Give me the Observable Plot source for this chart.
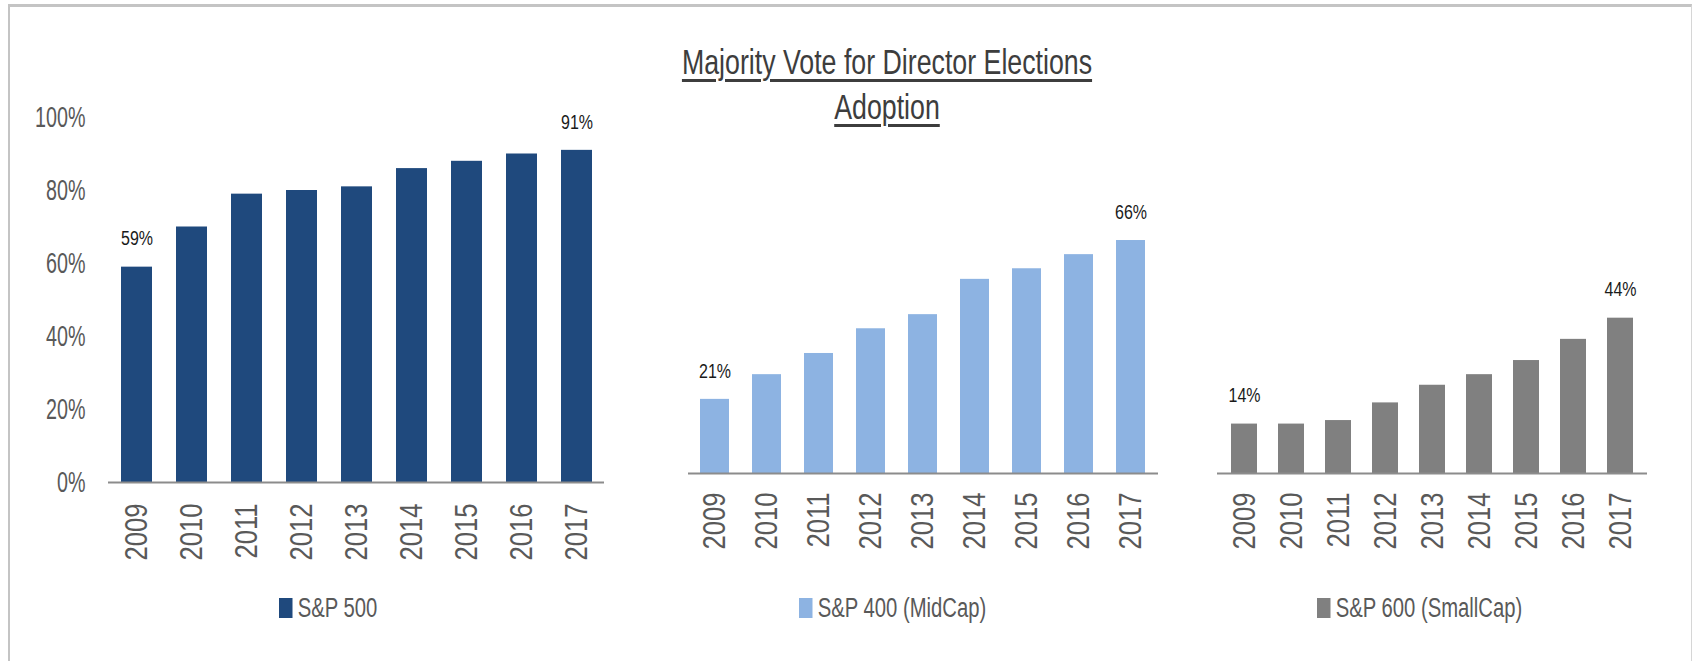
<!DOCTYPE html>
<html>
<head>
<meta charset="utf-8">
<script src="https://cdn.jsdelivr.net/npm/d3@7"></script>
<script src="https://cdn.jsdelivr.net/npm/@observablehq/plot@0.6"></script>
<style>
  html, body { margin: 0; padding: 0; background: #fff; }
  #root { position: relative; width: 1692px; height: 661px; overflow: hidden; background: #fff;
          font-family: "Liberation Sans", Arial, sans-serif; }
  #frame { position: absolute; left: 8px; top: 4px; width: 1681px; height: 700px;
           border-top: 3px solid #c4c4c4; border-left: 2px solid #c4c4c4; border-right: 1px solid #d6d6d6; }
  #title { position: absolute; left: 587px; width: 600px; top: 40px; text-align: center; color: #3d3d3d;
           font-size: 34.5px; line-height: 45px; transform: scaleX(0.775); transform-origin: 300px 0; }
  #title span { text-decoration: underline; text-decoration-thickness: 2.5px; text-underline-offset: 5px; }
  .legend { position: absolute; top: 593px; height: 30px; display: flex; align-items: center;
            font-size: 27px; color: #595959; white-space: nowrap; transform: scaleX(0.75); transform-origin: 0 0; }
  .legend i { display: inline-block; width: 18px; height: 20px; margin-right: 7px; }
</style>
</head>
<body>
<div id="root">
  <div id="frame"></div>
  <div id="title"><span>Majority Vote for Director Elections</span><br><span>Adoption</span></div>
</div>
<script>
// ---- data ----
const years = ["2009", "2010", "2011", "2012", "2013", "2014", "2015", "2016", "2017"];
const sp500 = [59, 70, 79, 80, 81, 86, 88, 90, 91];
const sp400 = [21, 28, 34, 41, 45, 55, 58, 62, 66];
const sp600 = [14, 14, 15, 20, 25, 28, 32, 38, 44];
const yTickValues = [0, 20, 40, 60, 80, 100];
const seriesNames = ["S&P 500", "S&P 400 (MidCap)", "S&P 600 (SmallCap)"];
const labeledYears = ["2009", "2017"];

const FONT = '"Liberation Sans", Arial, sans-serif';
const root = document.getElementById("root");

function narrowTexts(svg) {
  svg.querySelectorAll("text").forEach(t => {
    const g = t.closest("g[aria-label]");
    const lab = g ? g.getAttribute("aria-label") : "";
    const s = lab === "y-axis tick label" ? 0.68 : lab === "x-axis tick label" ? 0.8 : 0.82;
    const x = +t.getAttribute("x") || 0, y = +t.getAttribute("y") || 0;
    const tr = t.getAttribute("transform") || "";
    t.setAttribute("transform", `${tr} translate(${x},${y}) scale(${s},1) translate(${-x},${-y})`);
  });
}

function panel(values, cfg) {
  const data = years.map((y, i) => ({year: y, value: values[i]}));
  const labeled = data.filter(d => labeledYears.includes(d.year));
  const marks = [
    Plot.barY(data, {x: "year", y: "value", fill: cfg.color}),
    Plot.ruleY([0], {stroke: "#8c8c8c", strokeWidth: 2}),
    Plot.axisX({tickRotate: -90, tickSize: 0, tickPadding: cfg.tickPad, fontSize: 32, fill: "#595959", label: null}),
    Plot.text(labeled, {x: "year", y: "value", text: d => d.value + "%", dy: -28, fontSize: 19.5, fill: "#1a1a1a"})
  ];
  if (cfg.yAxis) {
    marks.push(Plot.axisY({ticks: yTickValues, tickFormat: d => d + "%", tickSize: 0, tickPadding: 23,
      fontSize: 29, fill: "#595959", label: null}));
  } else {
    marks.push(Plot.axisY({ticks: [], label: null}));
  }
  const chart = Plot.plot({
    width: cfg.width, height: 600,
    marginLeft: cfg.marginLeft, marginRight: cfg.marginRight,
    marginTop: cfg.marginTop, marginBottom: 600 - cfg.baseline,
    x: {domain: years, paddingInner: 0.44, paddingOuter: 0.22, label: null},
    y: {domain: [0, 100], label: null},
    style: {fontFamily: FONT, background: "transparent", overflow: "visible"},
    marks
  });
  narrowTexts(chart);
  chart.style.position = "absolute";
  chart.style.left = cfg.left + "px";
  chart.style.top = "0px";
  root.appendChild(chart);

  const lg = document.createElement("div");
  lg.className = "legend";
  lg.style.left = cfg.legendLeft + "px";
  lg.innerHTML = `<i style="background:${cfg.color}"></i><span>${cfg.name}</span>`;
  root.appendChild(lg);
}

panel(sp500, {name: seriesNames[0], color: "#1f497d", left: 0, width: 650, marginLeft: 108, marginRight: 46,
  marginTop: 117, baseline: 482, yAxis: true, tickPad: 21, legendLeft: 279});
panel(sp400, {name: seriesNames[1], color: "#8db3e2", left: 650, width: 560, marginLeft: 38, marginRight: 52,
  marginTop: 120, baseline: 473, yAxis: false, tickPad: 19, legendLeft: 799});
panel(sp600, {name: seriesNames[2], color: "#808080", left: 1210, width: 482, marginLeft: 7, marginRight: 45,
  marginTop: 120, baseline: 473, yAxis: false, tickPad: 19, legendLeft: 1317});
</script>
</body>
</html>
